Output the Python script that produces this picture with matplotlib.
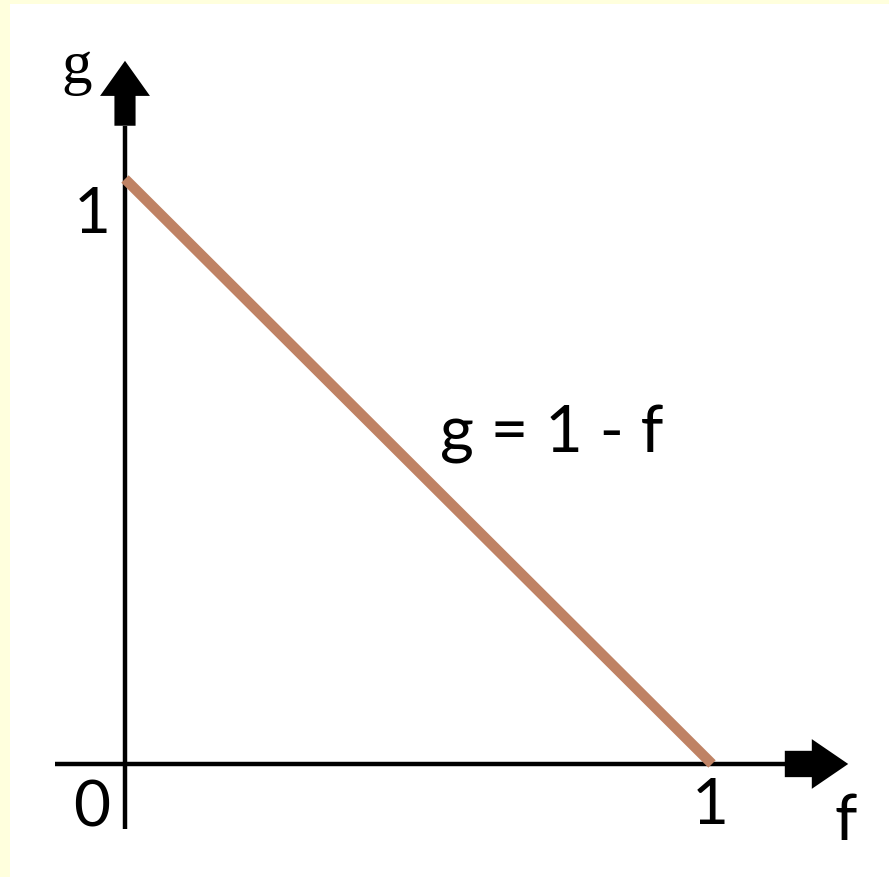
import matplotlib.pyplot as plt

# data: the line g = 1 - f
f_vals = [0, 1]
g_vals = [1, 0]
line_label = "g = 1 - f"
x_name, y_name = "f", "g"
origin_label = "0"
one_label = "1"

fig = plt.figure(figsize=(8.89, 8.78), dpi=100)
fig.patch.set_facecolor('#FFFFDD')
ax = fig.add_axes([10 / 889, 0, 1 - 10 / 889, 1 - 5 / 878])
ax.set_facecolor('white')
ax.set_xlim(-0.1959, 1.3015)
ax.set_ylim(-0.1932, 1.2991)
ax.set_xticks([])
ax.set_yticks([])
for s in ax.spines.values():
    s.set_visible(False)

# axes lines
ax.plot([-0.119, 1.124], [0, 0], color='black', lw=3.2, solid_capstyle='butt')
ax.plot([0, 0], [-0.111, 1.091], color='black', lw=3.2, solid_capstyle='butt')

# block arrow heads
ax.arrow(1.124, 0, 0.108, 0, width=0.045, head_width=0.085, head_length=0.062,
         length_includes_head=True, color='black', lw=0)
ax.arrow(0, 1.091, 0, 0.111, width=0.036, head_width=0.085, head_length=0.06,
         length_includes_head=True, color='black', lw=0)

# the line
ax.plot(f_vals, g_vals, color='#BF8264', lw=7.5, solid_capstyle='butt')

font = 'Lato'
ax.text(-0.056, 0.940, one_label, fontsize=46, family=font, ha='center', va='center')
ax.text(-0.056, -0.075, origin_label, fontsize=46, family=font, ha='center', va='center')
ax.text(f_vals[1] - 0.003, -0.070, one_label, fontsize=46, family=font, ha='center', va='center')
ax.text(1.227, -0.097, x_name, fontsize=46, family=font, ha='center', va='center')
ax.text(-0.082, 1.191, y_name, fontsize=44, family='Liberation Serif', ha='center', va='center')
ax.text(0.537, 0.535, line_label, fontsize=47, family=font, ha='left', va='baseline')

fig.savefig('out.png', dpi=100, facecolor=fig.get_facecolor())
